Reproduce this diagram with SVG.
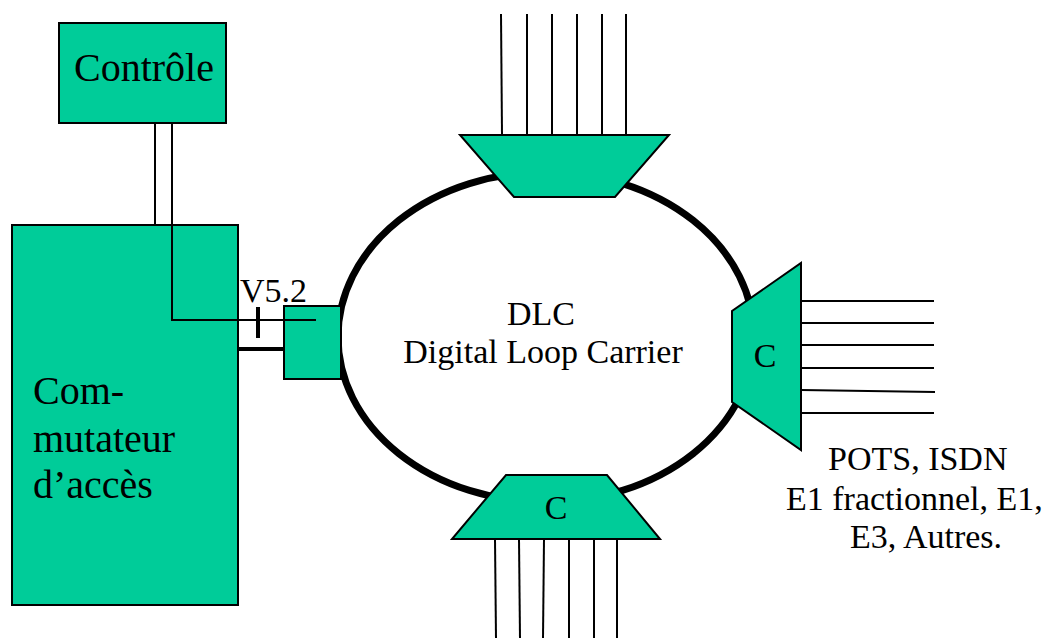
<svg xmlns="http://www.w3.org/2000/svg" width="1044" height="638" viewBox="0 0 1044 638">
  <style>
    .box { fill: #00CC99; stroke: #000; stroke-width: 2; }
    .wire { stroke: #000; stroke-width: 2; fill: none; }
    .thick { stroke: #000; stroke-width: 4; fill: none; }
    .ring { stroke: #000; stroke-width: 7; fill: none; }
    text { font-family: 'Liberation Serif', 'Times New Roman', Times, 'DejaVu Serif', serif; fill: #000; }
    .big { font-size: 40px; }
    .mid { font-size: 34px; }
  </style>

  <rect width="1044" height="638" fill="#fff"/>

  <!-- DLC ring -->
  <g id="ring">
    <ellipse class="ring" cx="546" cy="337" rx="208" ry="165"/>
  </g>

  <!-- connectors -->
  <g id="connectors">
    <!-- control to access switch -->
    <line class="wire" x1="155" y1="123" x2="155" y2="225"/>
    <line class="wire" x1="172" y1="123" x2="172" y2="225"/>
    <!-- V5.2 link -->
    <line class="thick" x1="237" y1="349" x2="285" y2="349"/>
    <line class="thick" x1="258" y1="307" x2="258" y2="338"/>
    <!-- top multiplexer lines -->
    <line class="wire" x1="501" y1="14" x2="502" y2="135"/>
    <line class="wire" x1="527" y1="14" x2="527" y2="135"/>
    <line class="wire" x1="552" y1="14" x2="552" y2="135"/>
    <line class="wire" x1="577" y1="14" x2="577" y2="135"/>
    <line class="wire" x1="602" y1="14" x2="602" y2="135"/>
    <line class="wire" x1="626" y1="14" x2="626" y2="135"/>
    <!-- right multiplexer lines -->
    <line class="wire" x1="801" y1="301" x2="934" y2="301"/>
    <line class="wire" x1="801" y1="323" x2="934" y2="323"/>
    <line class="wire" x1="801" y1="345" x2="934" y2="345"/>
    <line class="wire" x1="801" y1="368" x2="934" y2="368"/>
    <line class="wire" x1="801" y1="390" x2="935" y2="392"/>
    <line class="wire" x1="801" y1="413" x2="934" y2="413"/>
    <!-- bottom multiplexer lines -->
    <line class="wire" x1="495" y1="539" x2="496" y2="638"/>
    <line class="wire" x1="519" y1="539" x2="520" y2="638"/>
    <line class="wire" x1="544" y1="539" x2="543" y2="638"/>
    <line class="wire" x1="569" y1="539" x2="569" y2="638"/>
    <line class="wire" x1="594" y1="539" x2="594" y2="638"/>
    <line class="wire" x1="617" y1="539" x2="617" y2="638"/>
  </g>

  <g id="controle">
    <rect class="box" x="59" y="23" width="167" height="100"/>
    <text class="big" x="74" y="81">Contrôle</text>
  </g>

  <g id="commutateur">
    <rect class="box" x="12" y="225" width="226" height="380"/>
    <text class="big" x="33" y="404">Com-</text>
    <text class="big" x="33" y="452">mutateur</text>
    <text class="big" x="33" y="498">d’accès</text>
  </g>

  <!-- control line continues over the switch box to the interface -->
  <g id="control-link">
    <polyline class="wire" points="172,225 172,320 316,320"/>
  </g>

  <g id="v52">
    <text class="mid" x="240" y="302">V5.2</text>
  </g>

  <g id="interface">
    <rect class="box" x="284" y="306" width="57" height="73"/>
    <line class="wire" x1="284" y1="320" x2="316" y2="320"/>
  </g>

  <g id="mux-top">
    <polygon class="box" points="460,135 669,135 615,197 514,197"/>
  </g>

  <g id="mux-right">
    <polygon class="box" points="801,263 801,450 732,402 732,311"/>
    <text class="mid" x="765" y="367" text-anchor="middle">C</text>
  </g>

  <g id="mux-bottom">
    <polygon class="box" points="506,475 607,475 660,539 452,539"/>
    <text class="mid" x="556" y="519" text-anchor="middle">C</text>
  </g>

  <g id="dlc-label">
    <text class="mid" x="541" y="325" text-anchor="middle">DLC</text>
    <text class="mid" x="543" y="363" text-anchor="middle">Digital Loop Carrier</text>
  </g>

  <g id="services">
    <text class="mid" x="828" y="470">POTS, ISDN</text>
    <text class="mid" x="786" y="510">E1 fractionnel, E1,</text>
    <text class="mid" x="850" y="548">E3, Autres.</text>
  </g>
</svg>
